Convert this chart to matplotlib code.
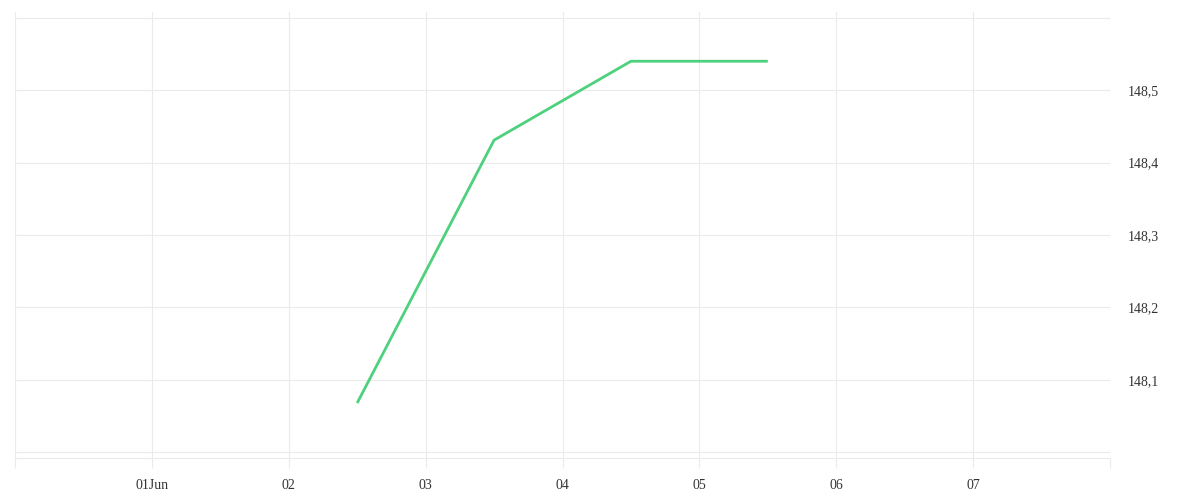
import matplotlib
matplotlib.use("Agg")
import matplotlib.pyplot as plt
from datetime import datetime

# data
dates = [datetime(2024, 6, 2, 12), datetime(2024, 6, 3, 12),
         datetime(2024, 6, 4, 12), datetime(2024, 6, 5, 12)]
values = [148.068, 148.431, 148.54, 148.54]

tick_days = [datetime(2024, 6, d) for d in range(1, 8)]
tick_labels = ["01Jun", "02", "03", "04", "05", "06", "07"]
y_ticks = [148.1, 148.2, 148.3, 148.4, 148.5]
y_labels = ["148,1", "148,2", "148,3", "148,4", "148,5"]
grid_y = [148.0, 148.1, 148.2, 148.3, 148.4, 148.5, 148.6]

plt.rcParams['font.family'] = ['Liberation Serif', 'DejaVu Serif']

fig = plt.figure(figsize=(12, 5), dpi=100)
ax = fig.add_axes([15 / 1200, 1 - 458 / 500, 1095 / 1200, 446 / 500])

grid_c = "#ebebeb"
for gy in grid_y:
    ax.axhline(gy, color=grid_c, lw=0.8, zorder=0)
for d in [datetime(2024, 5, 31)] + tick_days + [datetime(2024, 6, 8)]:
    ax.axvline(d, color=grid_c, lw=0.8, zorder=0)

ax.plot(dates, values, color="#4dd17c", lw=2, solid_capstyle="butt", zorder=3)

ax.set_xlim(datetime(2024, 5, 31), datetime(2024, 6, 8))
ax.set_ylim(147.992, 148.608)

ax.set_xticks(tick_days)
ax.set_xticklabels(tick_labels)
ax.set_xticks([datetime(2024, 5, 31), datetime(2024, 6, 8)], minor=True)
ax.tick_params(axis="x", which="both", direction="out", length=7, width=0.8,
               color=grid_c, labelsize=10, labelcolor="#333333", pad=8)

ax.yaxis.tick_right()
ax.set_yticks(y_ticks)
ax.set_yticklabels(y_labels)
ax.tick_params(axis="y", length=0, labelsize=10, labelcolor="#333333", pad=13)

for s in ["top", "left", "right"]:
    ax.spines[s].set_visible(False)
ax.spines["bottom"].set_color(grid_c)
ax.spines["bottom"].set_linewidth(0.8)

fig.savefig("out.png", dpi=100, facecolor="white")
